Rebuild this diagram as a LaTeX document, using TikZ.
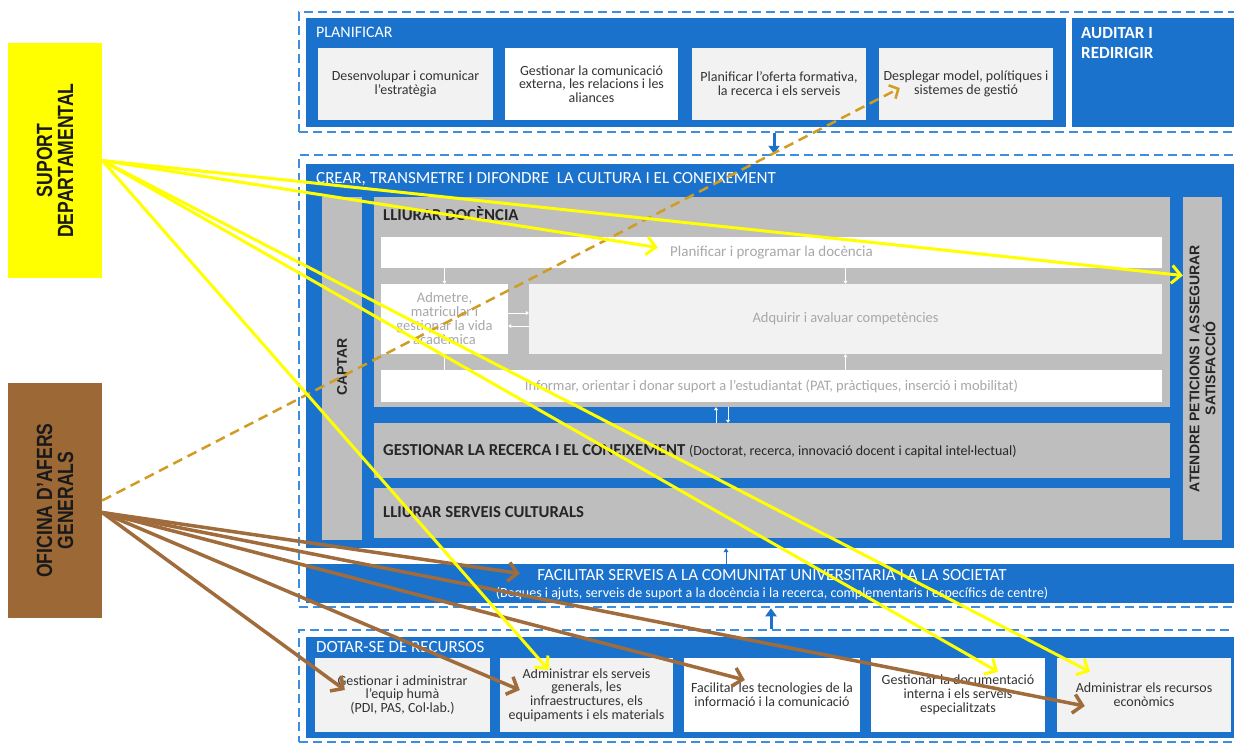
\documentclass[tikz,border=0pt]{standalone}
\usepackage{fontspec}
\setmainfont{Carlito}
\newfontfamily\narrowfont[FakeStretch=0.8]{Liberation Sans}
\newfontfamily\arialfont{Liberation Sans}
\usetikzlibrary{arrows.meta,calc}

\definecolor{procblue}{HTML}{1B72CC}
\definecolor{zoneblue}{HTML}{3C8EDF}
\definecolor{panelgrey}{HTML}{BEBEBE}
\definecolor{lightbox}{HTML}{F2F2F2}
\definecolor{fadedtext}{HTML}{A8A8A8}
\definecolor{boxtext}{HTML}{333333}
\definecolor{suportyellow}{HTML}{FFFF00}
\definecolor{oficinabrown}{HTML}{9C6936}
\definecolor{arrowbrown}{HTML}{A06C3C}
\definecolor{dashgold}{HTML}{D19C22}

\tikzset{
  zone/.style={draw=zoneblue,line width=2.5pt,dash pattern=on 9pt off 5pt,inner sep=0pt},
  panel/.style={fill=procblue,inner sep=0pt},
  greypanel/.style={fill=panelgrey,inner sep=0pt},
  task/.style={fill=#1,inner sep=0pt,align=center,text=boxtext,font=\fontsize{14}{13.8}\selectfont},
  task/.default=lightbox,
  faded/.style={fill=#1,inner sep=0pt,align=center,text=fadedtext,font=\fontsize{14.5}{14}\selectfont},
  faded/.default=white,
  whitetitle/.style={text=white,inner sep=0pt,font=\fontsize{17}{18}\selectfont},
  darktitle/.style={text=black!85,inner sep=0pt,font=\bfseries\fontsize{16.7}{18}\selectfont},
  sidetitle/.style={rotate=90,align=center,inner sep=0pt,text=black!85,font=\arialfont\bfseries\fontsize{14}{16}\selectfont},
  unittitle/.style={rotate=90,align=center,inner sep=0pt,text=black!90,font=\narrowfont\bfseries\fontsize{22}{21}\selectfont},
  tinyarrow/.style={draw=white,line width=0.8pt,-{Triangle[length=3pt,width=4pt]}},
  flowarrow/.style={draw=procblue,line width=3pt,-{Triangle[length=8pt,width=11pt]}},
  yellowlink/.style={draw=suportyellow,line width=3pt,-{Straight Barb[length=9pt,width=18pt]}},
  brownlink/.style={draw=arrowbrown,line width=3.5pt,-{Straight Barb[length=9pt,width=19pt]}},
  dashlink/.style={draw=dashgold,line width=2.5pt,dash pattern=on 10pt off 6pt,-{Straight Barb[length=7pt,width=15pt]}}
}

\begin{document}
\begin{tikzpicture}[x=1pt,y=-1pt]
\useasboundingbox (0,0) rectangle (1234,742);
\clip (0,0) rectangle (1234,742);
% dashed zones
\node[zone,minimum width=941,minimum height=120] (topzone) at (769.5,72) {};
\node[zone,minimum width=941,minimum height=452] (midzone) at (769.5,381) {};
\node[zone,minimum width=941,minimum height=112] (botzone) at (769.5,686) {};
% blue panels
\node[panel,minimum width=760,minimum height=109] (plan) at (686,72.5) {};
\node[panel,minimum width=168,minimum height=109] (audit) at (1156,72.5) {};
\node[panel,minimum width=934,minimum height=384] (crear) at (773,356) {};
\node[panel,minimum width=934,minimum height=39] (facil) at (773,583.5) {};
\node[panel,minimum width=934,minimum height=101] (dotar) at (773,687.5) {};
\node[whitetitle,font=\fontsize{16}{18}\selectfont,anchor=west] (planTitle) at (316,32) {PLANIFICAR};
\node[whitetitle,font=\bfseries\fontsize{17}{20}\selectfont,align=left,anchor=north west] (auditTitle) at (1081,27) {AUDITAR I\\REDIRIGIR};
\node[whitetitle,anchor=west] (crearTitle) at (316,179) {CREAR, TRANSMETRE I DIFONDRE \ LA CULTURA I EL CONEIXEMENT};
\node[whitetitle] (facilTitle) at (772,575) {FACILITAR SERVEIS A LA COMUNITAT UNIVERSITARIA I A LA SOCIETAT};
\node[whitetitle,font=\fontsize{14}{15}\selectfont] (facilSub) at (772,594) {(Beques i ajuts, serveis de suport a la docència i la recerca, complementaris i específics de centre)};
\node[whitetitle,anchor=west] (dotarTitle) at (316,647) {DOTAR-SE DE RECURSOS};
% planificar
\node[task,minimum width=175,minimum height=72] (plan1) at (405.5,84) {Desenvolupar i comunicar\\l’estratègia};
\node[task=white,minimum width=173,minimum height=72] (plan2) at (591.5,84) {Gestionar la comunicació\\externa, les relacions i les\\aliances};
\node[task,minimum width=174,minimum height=72] (plan3) at (779,84) {Planificar l’oferta formativa,\\la recerca i els serveis};
\node[task,minimum width=174,minimum height=72] (plan4) at (966,84) {Desplegar model, polítiques i\\sistemes de gestió};
% crear
\node[greypanel,minimum width=40,minimum height=343] (captar) at (342,368.5) {};
\node[sidetitle] (captarText) at (342,367) {CAPTAR};
\node[greypanel,minimum width=39,minimum height=343] (atendre) at (1202.5,368.5) {};
\node[sidetitle] (atendreText) at (1202.5,368.5) {ATENDRE PETICIONS I ASSEGURAR\\SATISFACCIÓ};
\node[greypanel,minimum width=796,minimum height=210] (docencia) at (772,302) {};
\node[darktitle,anchor=west] (docenciaTitle) at (383,214) {LLIURAR DOCÈNCIA};
\node[faded,minimum width=781,minimum height=31,font=\fontsize{15}{14}\selectfont] (prog) at (771.5,252.5) {Planificar i programar la docència};
\node[faded,minimum width=127,minimum height=70] (admetre) at (444.5,319) {Admetre,\\matricular i\\gestionar la vida\\acadèmica};
\node[faded=lightbox,minimum width=633,minimum height=70] (adquirir) at (845.5,319) {Adquirir i avaluar competències};
\node[faded,minimum width=781,minimum height=32] (informar) at (771.5,386) {Informar, orientar i donar suport a l’estudiantat (PAT, pràctiques, inserció i mobilitat)};
\node[greypanel,minimum width=796,minimum height=55] (recerca) at (772,450.5) {};
\node[darktitle,anchor=west] (recercaTitle) at (383,451) {GESTIONAR LA RECERCA I EL CONEIXEMENT {\mdseries\fontsize{14}{16}\selectfont(Doctorat, recerca, innovació docent i capital intel·lectual)}};
\node[greypanel,minimum width=796,minimum height=50] (cultura) at (772,513) {};
\node[darktitle,anchor=west] (culturaTitle) at (383,512) {LLIURAR SERVEIS CULTURALS};
\draw[tinyarrow] (prog.south -| admetre.north) -- (admetre.north);
\draw[tinyarrow] (prog.south -| adquirir.north) -- (adquirir.north);
\draw[tinyarrow] (informar.north -| admetre.south) -- (admetre.south);
\draw[tinyarrow] (informar.north -| adquirir.south) -- (adquirir.south);
\draw[tinyarrow] ([yshift=6pt]admetre.east) -- ([yshift=6pt]adquirir.west);
\draw[tinyarrow] ([yshift=-7pt]adquirir.west) -- ([yshift=-7pt]admetre.east);
\draw[tinyarrow] ([xshift=-56pt]recerca.north) -- ([xshift=-56pt]docencia.south);
\draw[tinyarrow] ([xshift=-44pt]docencia.south) -- ([xshift=-44pt]recerca.north);
\draw[draw=procblue,line width=0.9pt,-{Triangle[length=4pt,width=5pt]}] ([xshift=-47pt]facil.north) -- ([xshift=-47pt]crear.south);
% dotar-se de recursos
\node[task,minimum width=175,minimum height=74] (dot1) at (402.5,695) {Gestionar i administrar\\l’equip humà\\(PDI, PAS, Col·lab.)};
\node[task,minimum width=173,minimum height=74] (dot2) at (586.5,695) {Administrar els serveis\\generals, les\\infraestructures, els\\equipaments i els materials};
\node[task=white,minimum width=176,minimum height=74] (dot3) at (772,695) {Facilitar les tecnologies de la\\informació i la comunicació};
\node[task=white,minimum width=174,minimum height=74] (dot4) at (958,695) {Gestionar la documentació\\interna i els serveis\\especialitzats};
\node[task,minimum width=174,minimum height=74] (dot5) at (1144,695) {Administrar els recursos\\econòmics};
% flow between zones
\draw[flowarrow] ([xshift=4.5pt]topzone.south) -- ([xshift=4.5pt]midzone.north);
\draw[flowarrow] ([xshift=1.5pt]botzone.north) -- ([xshift=1.5pt]midzone.south);
% units
\node[fill=suportyellow,minimum width=94,minimum height=235,inner sep=0pt] (suport) at (55,160.5) {};
\node[unittitle] (suportText) at (55,160.5) {SUPORT\\DEPARTAMENTAL};
\node[fill=oficinabrown,minimum width=94,minimum height=235,inner sep=0pt] (oficina) at (55,500.5) {};
\node[unittitle] (oficinaText) at (55,500.5) {OFICINA D’AFERS\\GENERALS};
\coordinate (oficinaOut) at ($(oficina.east)+(0,12)$);
% links
\draw[dashlink] (oficina.east) -- ($(plan4.west)+(21,4)$);
\draw[brownlink] (oficinaOut) -- ($(facil.west)+(214,-10)$);
\draw[brownlink] (oficinaOut) -- ($(dot1.west)+(30,-5)$);
\draw[brownlink] (oficinaOut) -- ($(dot2.west)+(20,-5)$);
\draw[brownlink] (oficinaOut) -- ($(dot3.west)+(61,-15)$);
\draw[brownlink] (oficinaOut) -- ($(dot5.west)+(28,11)$);
\draw[yellowlink] (suport.east) -- ($(prog.west)+(277,-5)$);
\draw[yellowlink] (suport.east) -- ($(atendre.west)+(0,-93)$);
\draw[yellowlink] (suport.east) -- ($(dot2.north)+(-38,12)$);
\draw[yellowlink] (suport.east) -- ($(dot4.north)+(40,14)$);
\draw[yellowlink] (suport.east) -- ($(dot5.north)+(-54,14)$);
\end{tikzpicture}
\end{document}
